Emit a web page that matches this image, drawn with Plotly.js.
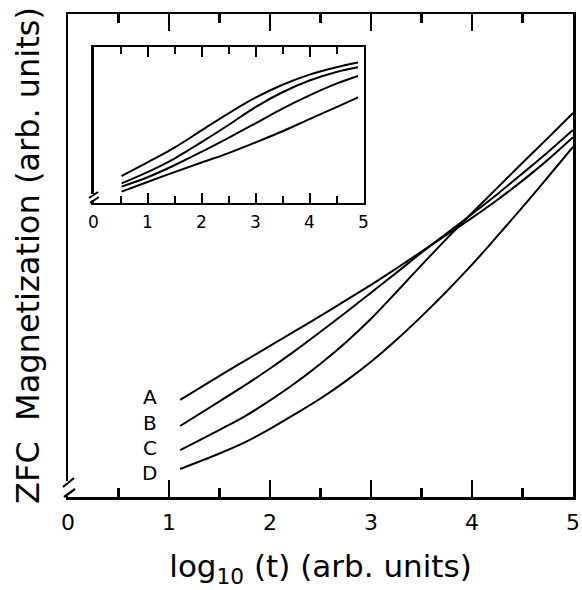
<!DOCTYPE html>
<html>
<head>
<meta charset="utf-8">
<script src="https://cdn.plot.ly/plotly-3.0.1.min.js"></script>
<style>
  html, body { margin: 0; padding: 0; background: #fff; }
  #chart { width: 582px; height: 590px; }
</style>
</head>
<body>
<div id="chart"></div>
<script>
// ---- main panel data (log10 t, magnetization in arb. units) ----
const xMain = [1.11, 1.5, 1.75, 2.0, 2.25, 2.5, 2.75, 3.0, 3.25, 3.5, 3.75, 4.0, 4.25, 4.5, 4.75, 5.0];
const curveA = [20.1, 25.1, 28.2, 31.3, 34.4, 37.5, 40.7, 43.9, 47.3, 50.8, 54.3, 57.8, 61.5, 65.5, 69.8, 74.5];
const curveB = [14.7, 19.8, 23.1, 26.6, 30.3, 34.2, 38.2, 42.3, 46.4, 50.6, 54.6, 58.6, 62.7, 67.0, 71.4, 76.0];
const curveC = [9.7, 13.9, 16.7, 20.0, 23.6, 27.6, 32.0, 36.9, 42.4, 48.0, 53.5, 58.8, 64.0, 69.2, 74.3, 79.5];
const curveD = [5.8, 9.0, 11.3, 14.1, 17.2, 20.4, 24.0, 28.0, 32.5, 37.4, 42.6, 48.1, 54.0, 60.0, 66.2, 72.5];
const curveNames = ["A", "B", "C", "D"];
const labelX = [0.81, 0.81, 0.81, 0.81];
const labelY = [20.7, 15.3, 10.1, 5.0];

// ---- inset data ----
const xInset = [0.52, 1.0, 1.5, 2.0, 2.5, 3.0, 3.5, 4.0, 4.5, 4.9];
const inset1 = [17.3, 26.0, 35.5, 46.5, 57.5, 67.5, 75.8, 82.3, 87.0, 90.0];
const inset2 = [12.6, 19.8, 28.5, 39.0, 50.0, 61.5, 71.0, 78.5, 84.0, 87.0];
const inset3 = [10.5, 16.5, 24.2, 32.8, 41.8, 51.1, 60.5, 69.0, 76.5, 81.4];
const inset4 = [7.3, 13.5, 19.8, 26.0, 32.0, 38.8, 46.0, 53.8, 61.5, 67.7];

const tickVals = [0, 1, 2, 3, 4, 5];
const tickText = ["0", "1", "2", "3", "4", "5"];

const FONT = "DejaVu Sans, sans-serif";
const lineStyle = {color: "#000", width: 2, shape: "spline", smoothing: 1};

const mainSeries = [curveA, curveB, curveC, curveD];
const insetSeries = [inset1, inset2, inset3, inset4];

const traces = [];
mainSeries.forEach((ys, i) => traces.push({
  x: xMain, y: ys, type: "scatter", mode: "lines", name: curveNames[i],
  line: lineStyle, xaxis: "x", yaxis: "y", hoverinfo: "skip"
}));
insetSeries.forEach((ys, i) => traces.push({
  x: xInset, y: ys, type: "scatter", mode: "lines", name: "inset " + curveNames[i],
  line: lineStyle, xaxis: "x2", yaxis: "y2", hoverinfo: "skip"
}));

const annotations = curveNames.map((n, i) => ({
  x: labelX[i], y: labelY[i], xref: "x", yref: "y", text: n, showarrow: false,
  font: {family: FONT, size: 20, color: "#000"}, xanchor: "center", yanchor: "middle"
}));

// paper coordinate helpers for the axis-break marks (plot area 68..573 x 14..497 px)
const L = 68, R = 573, T = 14, B = 497;
const px = v => (v - L) / (R - L);
const py = v => (B - v) / (B - T);
function seg(x0, y0, x1, y1, w) {
  return {type: "line", xref: "paper", yref: "paper", x0: px(x0), y0: py(y0), x1: px(x1), y1: py(y1),
          line: {color: "#000", width: w}, layer: "above"};
}
function blank(x0, y0, x1, y1) {
  return {type: "rect", xref: "paper", yref: "paper", x0: px(x0), y0: py(y0), x1: px(x1), y1: py(y1),
          fillcolor: "#fff", line: {width: 0}, layer: "above"};
}
const shapes = [
  blank(64, 481, 72, 494),
  seg(63, 487, 74, 478, 2.2),
  seg(64, 497, 75, 489, 2.2),
  blank(90, 194, 97, 200.5),
  seg(89, 198, 98, 192, 2),
  seg(90, 203, 99, 197, 2)
];

const layout = {
  width: 582, height: 590,
  margin: {l: L, r: 582 - R, t: T, b: 590 - B, pad: 0},
  paper_bgcolor: "#fff", plot_bgcolor: "#fff",
  showlegend: false,
  font: {family: FONT, color: "#000"},
  xaxis: {
    domain: [0, 1], range: [0, 5], anchor: "y",
    showline: true, linecolor: "#000", linewidth: 2.5, mirror: "ticks",
    ticks: "inside", ticklen: 17, tickwidth: 2.2, tickcolor: "#000",
    tickvals: tickVals, ticktext: tickText,
    minor: {dtick: 0.5, tick0: 0, ticks: "inside", ticklen: 9, tickwidth: 2.2, tickcolor: "#000", showgrid: false},
    showgrid: false, zeroline: false,
    tickfont: {family: FONT, size: 22, color: "#000"},
    ticklabelstandoff: 4,
    title: {text: "log<sub>10</sub> (t) (arb. units)", font: {family: FONT, size: 31, color: "#000"}, standoff: 22},
    automargin: false
  },
  yaxis: {
    domain: [0, 1], range: [0, 100], anchor: "x",
    showline: true, linecolor: "#000", linewidth: 2.5, mirror: true,
    ticks: "", showticklabels: false, showgrid: false, zeroline: false,
    title: {text: "ZFC  Magnetization (arb. units)", font: {family: FONT, size: 32, color: "#000"}, standoff: 17},
    automargin: false
  },
  xaxis2: {
    domain: [(93.5 - L) / (R - L), (363.5 - L) / (R - L)], range: [0, 5], anchor: "y2",
    showline: true, linecolor: "#000", linewidth: 2.2, mirror: "ticks",
    ticks: "inside", ticklen: 10, tickwidth: 2, tickcolor: "#000",
    tickvals: tickVals, ticktext: tickText,
    minor: {dtick: 0.5, tick0: 0, ticks: "inside", ticklen: 7, tickwidth: 2, tickcolor: "#000", showgrid: false},
    showgrid: false, zeroline: false,
    tickfont: {family: FONT, size: 17, color: "#000"},
    ticklabelstandoff: 2,
    automargin: false
  },
  yaxis2: {
    domain: [(B - 203) / (B - T), (B - 47) / (B - T)], range: [0, 100], anchor: "x2",
    showline: true, linecolor: "#000", linewidth: 2.2, mirror: true,
    ticks: "", showticklabels: false, showgrid: false, zeroline: false,
    automargin: false
  },
  annotations: annotations,
  shapes: shapes
};

Plotly.newPlot("chart", traces, layout, {staticPlot: true, displayModeBar: false});
</script>
</body>
</html>
